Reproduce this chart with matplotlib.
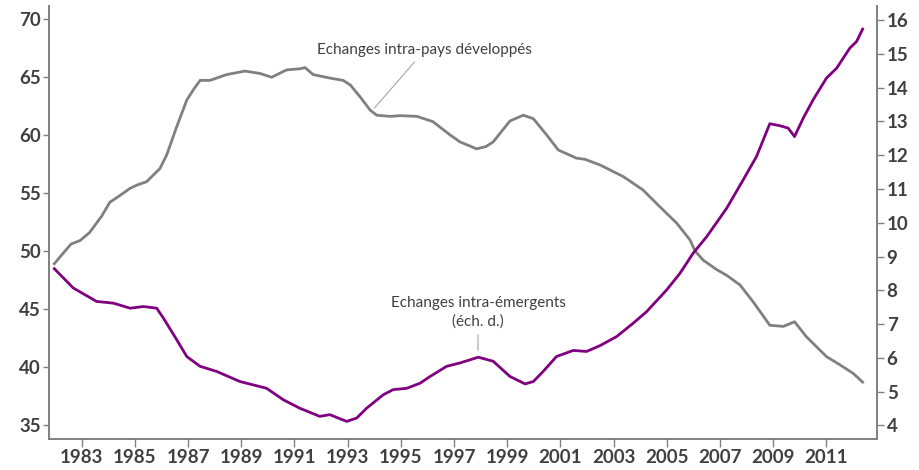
import matplotlib.pyplot as plt

# Echanges intra-pays développés (left axis)
dev_years = [1981.97, 1982.3, 1982.6, 1982.94, 1983.3, 1983.75, 1984.06, 1984.45, 1984.82, 1985.1,
             1985.44, 1985.94, 1986.2, 1986.57, 1986.95, 1987.2, 1987.45, 1987.82, 1988.45, 1989.14,
             1989.7, 1990.14, 1990.7, 1991.2, 1991.4, 1991.7, 1992.33, 1992.83, 1993.1, 1993.46,
             1993.84, 1994.09, 1994.6, 1994.97, 1995.6, 1996.2, 1996.85, 1997.22, 1997.85, 1998.2,
             1998.47, 1999.1, 1999.6, 1999.98, 2000.48, 2000.92, 2001.6, 2001.92, 2002.5, 2003.37,
             2004.1, 2004.74, 2005.37, 2005.87, 2006.06, 2006.37, 2006.87, 2007.25, 2007.75, 2008.25,
             2008.87, 2009.38, 2009.8, 2010.25, 2011.0, 2011.5, 2012.0, 2012.36]
dev_values = [48.9, 49.8, 50.6, 50.9, 51.6, 53.0, 54.2, 54.8, 55.4, 55.7,
              55.97, 57.1, 58.3, 60.7, 63.0, 63.9, 64.7, 64.7, 65.2, 65.5,
              65.3, 64.97, 65.6, 65.7, 65.8, 65.2, 64.9, 64.7, 64.3, 63.3,
              62.15, 61.7, 61.6, 61.66, 61.6, 61.15, 60.0, 59.4, 58.8, 59.0,
              59.4, 61.2, 61.7, 61.4, 60.0, 58.7, 58.0, 57.9, 57.4, 56.4,
              55.26, 53.8, 52.4, 50.95, 50.0, 49.2, 48.4, 47.9, 47.07, 45.6,
              43.6, 43.5, 43.9, 42.6, 40.9, 40.2, 39.46, 38.7]

# Echanges intra-émergents (right axis)
emg_years = [1981.97, 1982.68, 1983.56, 1984.19, 1984.82, 1985.32, 1985.82, 1986.07, 1986.57, 1986.95,
             1987.45, 1988.07, 1988.95, 1989.95, 1990.58, 1991.2, 1991.95, 1992.33, 1992.96, 1993.34,
             1993.71, 1994.34, 1994.71, 1995.22, 1995.72, 1996.1, 1996.72, 1997.22, 1997.91, 1998.47,
             1999.1, 1999.67, 1999.98, 2000.35, 2000.85, 2001.48, 2001.98, 2002.48, 2003.11, 2003.74,
             2004.24, 2004.99, 2005.49, 2005.99, 2006.5, 2007.25, 2007.87, 2008.37, 2008.87, 2009.25,
             2009.56, 2009.8, 2010.13, 2010.5, 2011.0, 2011.38, 2011.88, 2012.13, 2012.36]
emg_values = [8.64, 8.07, 7.67, 7.62, 7.47, 7.52, 7.47, 7.18, 6.54, 6.04,
              5.75, 5.6, 5.3, 5.1, 4.76, 4.51, 4.27, 4.32, 4.12, 4.22,
              4.51, 4.91, 5.06, 5.1, 5.25, 5.45, 5.75, 5.85, 6.02, 5.9,
              5.45, 5.23, 5.3, 5.6, 6.04, 6.22, 6.19, 6.36, 6.63, 7.03,
              7.37, 8.01, 8.5, 9.1, 9.59, 10.43, 11.27, 11.96, 12.93, 12.87,
              12.8, 12.55, 13.1, 13.64, 14.28, 14.57, 15.17, 15.36, 15.73]

x_ticks = list(range(1983, 2012, 2))
left_ticks = [35, 40, 45, 50, 55, 60, 65, 70]
right_ticks = list(range(4, 17))

grey = '#808080'
purple = '#800080'
txt = '#404040'

plt.rcParams['font.family'] = ['Lato', 'DejaVu Sans']

fig = plt.figure(figsize=(9.19, 4.70), dpi=100)
ax = fig.add_axes([0.0533, 0.066, 0.901, 0.921])
ax2 = ax.twinx()

ax.plot(dev_years, dev_values, color=grey, linewidth=2.0, solid_joinstyle='round')
ax2.plot(emg_years, emg_values, color=purple, linewidth=2.0, solid_joinstyle='round')

ax.set_xlim(1981.77, 2012.9)
ax.set_ylim(33.8, 71.1)
ax2.set_ylim(3.6, 16.41)

ax.set_xticks(x_ticks)
ax.set_yticks(left_ticks)
ax2.set_yticks(right_ticks)

for a in (ax, ax2):
    a.spines['top'].set_visible(False)
    for s in a.spines.values():
        s.set_color(grey)
        s.set_linewidth(1.2)

ax.tick_params(axis='x', length=6, width=1, color=grey, labelsize=13.5, labelcolor=txt, pad=1)
ax.tick_params(axis='y', length=4, width=1, color=grey, labelsize=13.5, labelcolor=txt, pad=2)
ax2.tick_params(axis='y', length=5, width=1, color=grey, labelsize=13.5, labelcolor=txt, pad=2)
for lab in ax.get_xticklabels() + ax.get_yticklabels() + ax2.get_yticklabels():
    lab.set_fontweight('bold')

ax.annotate('Echanges intra-pays développés', xy=(1994.0, 62.3), xytext=(1995.9, 66.7),
            ha='center', va='bottom', fontsize=11, color=txt,
            arrowprops=dict(arrowstyle='-', color='#a6a6a6', linewidth=0.8,
                            shrinkA=2, shrinkB=0))
ax2.annotate('Echanges intra-émergents\n(éch. d.)', xy=(1997.9, 6.22), xytext=(1997.9, 6.85),
             ha='center', va='bottom', fontsize=11, color=txt, linespacing=1.45,
             arrowprops=dict(arrowstyle='-', color='#a6a6a6', linewidth=0.8,
                             shrinkA=2, shrinkB=0))

fig.savefig('out.png', dpi=100)
